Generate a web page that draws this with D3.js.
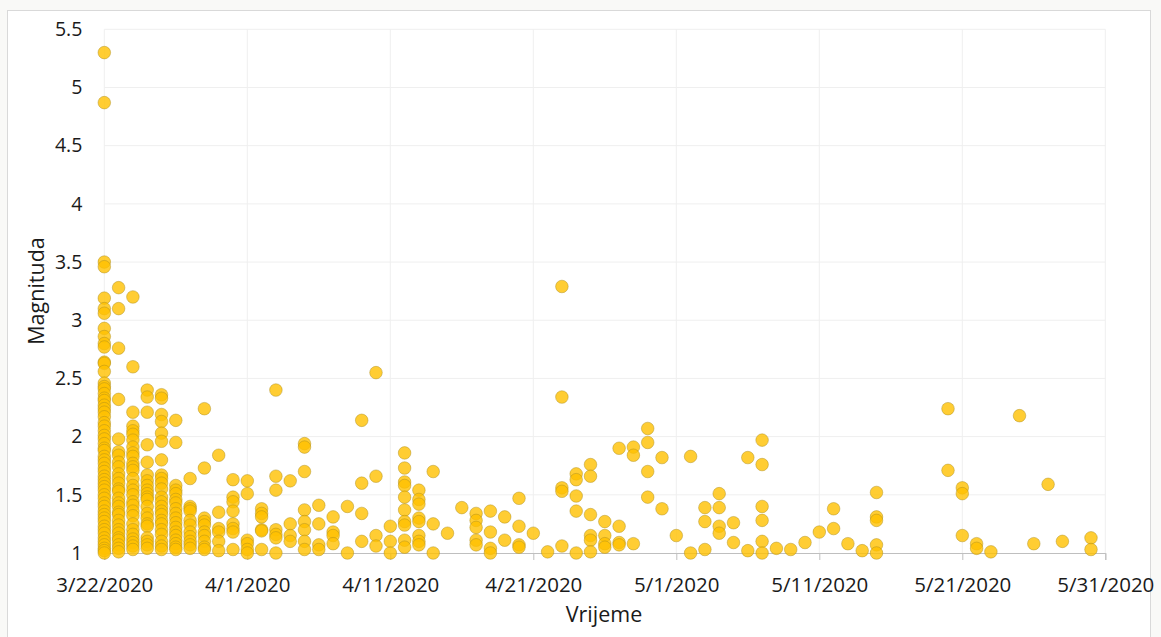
<!DOCTYPE html>
<html>
<head>
<meta charset="utf-8">
<script src="https://cdnjs.cloudflare.com/ajax/libs/d3/7.8.5/d3.min.js"></script>
<style>
  body { margin: 0; background: #f9f9f7; }
  svg { display: block; }
  text { font-family: "Open Sans", "Noto Sans", sans-serif; fill: #1a1a1a; }
</style>
</head>
<body>
<svg width="1161" height="637"></svg>
<script>
"use strict";
// dates that have events, and the magnitudes recorded on each of them
var eventDates = [
  "3/22/2020", "3/23/2020", "3/24/2020", "3/25/2020", "3/26/2020", "3/27/2020", "3/28/2020",
  "3/29/2020", "3/30/2020", "3/31/2020", "4/1/2020", "4/2/2020", "4/3/2020", "4/4/2020",
  "4/5/2020", "4/6/2020", "4/7/2020", "4/8/2020", "4/9/2020", "4/10/2020", "4/11/2020",
  "4/12/2020", "4/13/2020", "4/14/2020", "4/15/2020", "4/16/2020", "4/17/2020", "4/18/2020",
  "4/19/2020", "4/20/2020", "4/21/2020", "4/22/2020", "4/23/2020", "4/24/2020", "4/25/2020",
  "4/26/2020", "4/27/2020", "4/28/2020", "4/29/2020", "4/30/2020", "5/1/2020", "5/2/2020",
  "5/3/2020", "5/4/2020", "5/5/2020", "5/6/2020", "5/7/2020", "5/8/2020", "5/9/2020",
  "5/10/2020", "5/11/2020", "5/12/2020", "5/13/2020", "5/14/2020", "5/15/2020",
  "5/20/2020", "5/21/2020", "5/22/2020", "5/23/2020", "5/25/2020", "5/26/2020",
  "5/27/2020", "5/28/2020", "5/30/2020"
];
var magnitudes = [
  [5.3, 4.87, 3.5, 3.46, 3.19, 3.1, 3.06, 2.93, 2.86, 2.8, 2.77, 2.64, 2.63, 2.56, 2.46, 2.43,
   2.41, 2.37, 2.33, 2.31, 2.27, 2.24, 2.21, 2.17, 2.12, 2.09, 2.05, 2.01, 1.98, 1.94, 1.9, 1.88,
   1.83, 1.8, 1.77, 1.73, 1.7, 1.66, 1.63, 1.6, 1.57, 1.54, 1.5, 1.47, 1.43, 1.4, 1.36, 1.33,
   1.3, 1.27, 1.23, 1.2, 1.17, 1.13, 1.1, 1.07, 1.04, 1.02, 1.0],
  [3.28, 3.1, 2.76, 2.32, 1.98, 1.87, 1.84, 1.78, 1.74, 1.68, 1.64, 1.6, 1.55, 1.53, 1.47, 1.43,
   1.4, 1.35, 1.33, 1.28, 1.24, 1.2, 1.17, 1.13, 1.11, 1.07, 1.04, 1.01],
  [3.2, 2.6, 2.21, 2.09, 2.05, 2.02, 1.97, 1.91, 1.86, 1.83, 1.77, 1.74, 1.71, 1.64, 1.58, 1.54,
   1.5, 1.44, 1.41, 1.36, 1.32, 1.25, 1.2, 1.16, 1.12, 1.09, 1.06, 1.03],
  [2.4, 2.34, 2.21, 1.93, 1.78, 1.67, 1.62, 1.58, 1.54, 1.51, 1.48, 1.46, 1.4, 1.34, 1.3, 1.25,
   1.23, 1.13, 1.1, 1.07, 1.04],
  [2.36, 2.33, 2.19, 2.13, 2.03, 1.96, 1.8, 1.67, 1.64, 1.6, 1.55, 1.48, 1.44, 1.4, 1.36, 1.33,
   1.28, 1.25, 1.2, 1.16, 1.1, 1.06, 1.03],
  [2.14, 1.95, 1.58, 1.54, 1.51, 1.46, 1.43, 1.38, 1.34, 1.3, 1.26, 1.22, 1.18, 1.15, 1.11, 1.08,
   1.05, 1.03],
  [1.64, 1.4, 1.38, 1.36, 1.28, 1.24, 1.18, 1.14, 1.1, 1.07, 1.04],
  [2.24, 1.73, 1.3, 1.27, 1.24, 1.18, 1.15, 1.1, 1.05, 1.03],
  [1.84, 1.35, 1.21, 1.18, 1.1, 1.02],
  [1.63, 1.48, 1.44, 1.36, 1.25, 1.21, 1.18, 1.03],
  [1.62, 1.51, 1.11, 1.08, 1.03, 1.0],
  [1.38, 1.34, 1.31, 1.2, 1.19, 1.03],
  [2.4, 1.66, 1.54, 1.2, 1.16, 1.13, 1.0],
  [1.62, 1.25, 1.15, 1.1],
  [1.94, 1.91, 1.7, 1.37, 1.27, 1.2, 1.1, 1.03],
  [1.41, 1.25, 1.07, 1.03],
  [1.31, 1.18, 1.15, 1.08],
  [1.4, 1.0],
  [2.14, 1.6, 1.34, 1.1],
  [2.55, 1.66, 1.15, 1.06],
  [1.23, 1.1, 1.0],
  [1.86, 1.73, 1.61, 1.58, 1.48, 1.37, 1.27, 1.24, 1.11, 1.05],
  [1.54, 1.46, 1.42, 1.3, 1.27, 1.15, 1.1, 1.07],
  [1.7, 1.25, 1.0],
  [1.17],
  [1.39],
  [1.34, 1.28, 1.22, 1.11, 1.07],
  [1.36, 1.18, 1.04, 1.0],
  [1.31, 1.11],
  [1.47, 1.23, 1.07, 1.05],
  [1.17],
  [1.01],
  [3.29, 2.34, 1.56, 1.53, 1.06],
  [1.68, 1.63, 1.49, 1.36, 1.0],
  [1.76, 1.66, 1.33, 1.15, 1.11, 1.01],
  [1.27, 1.15, 1.08, 1.05],
  [1.9, 1.23, 1.09, 1.07],
  [1.91, 1.84, 1.08],
  [2.07, 1.95, 1.7, 1.48],
  [1.82, 1.38],
  [1.15],
  [1.83, 1.0],
  [1.39, 1.27, 1.03],
  [1.51, 1.39, 1.23, 1.17],
  [1.26, 1.09],
  [1.82, 1.02],
  [1.97, 1.76, 1.4, 1.28, 1.1, 1.0],
  [1.04],
  [1.03],
  [1.09],
  [1.18],
  [1.38, 1.21],
  [1.08],
  [1.02],
  [1.52, 1.31, 1.28, 1.07, 1.0],
  [2.24, 1.71],
  [1.56, 1.51, 1.15],
  [1.08, 1.04],
  [1.01],
  [2.18],
  [1.08],
  [1.59],
  [1.1],
  [1.13, 1.03]
];
var xTickLabels = ["3/22/2020", "4/1/2020", "4/11/2020", "4/21/2020", "5/1/2020",
  "5/11/2020", "5/21/2020", "5/31/2020"];
var yTickValues = [1, 1.5, 2, 2.5, 3, 3.5, 4, 4.5, 5, 5.5];

var svg = d3.select('svg');
var width = Number(svg.attr('width'));
var height = Number(svg.attr('height'));
var margin = { top: 29.3, right: 55.7, bottom: 84, left: 104.3 };
var parseDate = d3.utcParse('%m/%d/%Y');

// chart area frame
svg.append('rect')
    .attr('x', 7.5).attr('y', 10.5)
    .attr('width', 1143).attr('height', height)
    .attr('fill', '#fff')
    .attr('stroke', '#d9d9d9');

var xTicks = xTickLabels.map(parseDate);
var x = d3.scaleUtc()
    .domain([xTicks[0], xTicks[xTicks.length - 1]])
    .range([margin.left, width - margin.right]);
var y = d3.scaleLinear()
    .domain([1, 5.5])
    .range([height - margin.bottom, margin.top]);

// grid
var grid = svg.append('g');
grid.selectAll('.hg').data(yTickValues.slice(1)).enter().append('line')
    .attr('x1', margin.left).attr('x2', width - margin.right)
    .attr('y1', function (d) { return y(d); }).attr('y2', function (d) { return y(d); })
    .attr('stroke', '#efefef');
grid.selectAll('.vg').data(xTicks).enter().append('line')
    .attr('x1', function (d) { return x(d); }).attr('x2', function (d) { return x(d); })
    .attr('y1', margin.top).attr('y2', height - margin.bottom)
    .attr('stroke', '#efefef');

// x axis
var xAxis = svg.append('g')
    .attr('transform', "translate(0," + (height - margin.bottom) + ")")
    .call(d3.axisBottom(x).tickValues(xTicks).tickSize(7).tickPadding(17)
        .tickFormat(function (d, i) { return xTickLabels[i]; }));
xAxis.select('.domain').attr('stroke', '#bfbfbf');
xAxis.selectAll('.tick line').attr('stroke', '#bfbfbf');
xAxis.selectAll('text').attr('font-size', 20.5).attr('fill', '#1a1a1a')
    .attr('font-family', '"Open Sans", sans-serif');

// y axis (labels only)
var yAxis = svg.append('g')
    .attr('transform', "translate(" + margin.left + ",0)")
    .call(d3.axisLeft(y).tickValues(yTickValues).tickSize(0).tickPadding(22)
        .tickFormat(d3.format('')));
yAxis.select('.domain').remove();
yAxis.selectAll('text').attr('font-size', 19.5).attr('fill', '#1a1a1a')
    .attr('font-family', '"Open Sans", sans-serif');

// points
var points = [];
eventDates.forEach(function (ds, i) {
    var d = parseDate(ds);
    magnitudes[i].forEach(function (m) { points.push({ date: d, mag: m }); });
});
svg.append('g').selectAll('circle').data(points).enter().append('circle')
    .attr('cx', function (d) { return x(d.date); })
    .attr('cy', function (d) { return y(d.mag); })
    .attr('r', 6.3)
    .attr('fill', '#ffc000')
    .attr('fill-opacity', 0.8)
    .attr('stroke', '#a88a1c')
    .attr('stroke-opacity', 0.55)
    .attr('stroke-width', 0.8);

// axis titles
svg.append('text')
    .attr('x', 604).attr('y', 622)
    .attr('text-anchor', 'middle')
    .attr('font-size', 21.5)
    .text('Vrijeme');
svg.append('text')
    .attr('transform', 'translate(44,291) rotate(-90)')
    .attr('text-anchor', 'middle')
    .attr('font-size', 21.5)
    .text('Magnituda');
</script>
</body>
</html>
